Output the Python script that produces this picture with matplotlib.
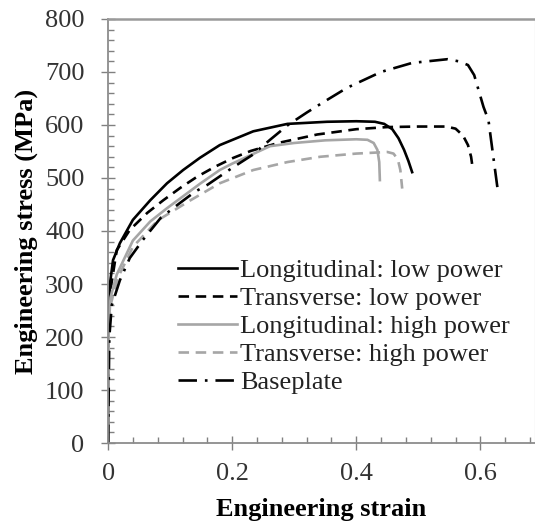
import matplotlib
matplotlib.use("Agg")
import matplotlib.pyplot as plt
from matplotlib.ticker import MultipleLocator

plt.rcParams['font.family'] = ['Liberation Serif', 'DejaVu Serif']

# Engineering stress-strain curves (strain, MPa)
long_low_strain = [0, 0.001, 0.003, 0.008, 0.019, 0.04, 0.068, 0.095, 0.121, 0.148, 0.18, 0.234,
                   0.289, 0.353, 0.4, 0.43, 0.445, 0.458, 0.468, 0.477, 0.484, 0.49]
long_low_stress = [0, 250, 300, 345, 377, 421, 458, 490, 515, 538, 562, 588,
                   602, 606, 607, 606, 602, 592, 575, 553, 532, 511]

trans_low_strain = [0, 0.001, 0.004, 0.014, 0.035, 0.063, 0.089, 0.116, 0.143, 0.172, 0.202, 0.23,
                    0.274, 0.337, 0.4, 0.45, 0.5, 0.545, 0.56, 0.572, 0.58, 0.585, 0.588]
trans_low_stress = [0, 240, 290, 364, 402, 434, 458, 481, 502, 521, 538, 551,
                    566, 582, 592, 596, 597, 597, 593, 580, 562, 540, 515]

long_high_strain = [0, 0.001, 0.004, 0.014, 0.04, 0.068, 0.095, 0.148, 0.18, 0.2, 0.261, 0.3,
                    0.35, 0.4, 0.418, 0.428, 0.434, 0.437, 0.438]
long_high_stress = [0, 220, 275, 318, 382, 418, 443, 489, 515, 527, 560, 566,
                    571, 573, 572, 566, 553, 530, 496]

trans_high_strain = [0, 0.001, 0.004, 0.015, 0.04, 0.08, 0.13, 0.18, 0.234, 0.289, 0.342, 0.4,
                     0.45, 0.46, 0.467, 0.471, 0.474]
trans_high_stress = [0, 210, 260, 310, 370, 420, 456, 490, 515, 530, 540, 546,
                     549, 546, 535, 515, 480]

base_strain = [0, 0.002, 0.006, 0.019, 0.035, 0.056, 0.085, 0.116, 0.14, 0.16, 0.2, 0.232, 0.261,
               0.29, 0.321, 0.347, 0.385, 0.44, 0.49, 0.547, 0.565, 0.58, 0.59, 0.605, 0.613,
               0.62, 0.628]
base_stress = [0, 200, 260, 307, 349, 383, 425, 453, 474, 487, 519, 543, 572,
               600, 624, 643, 670, 700, 717, 724, 720, 713, 694, 634, 609,
               547, 477]

labels = ["Longitudinal: low power", "Transverse: low power",
          "Longitudinal: high power", "Transverse: high power", "Baseplate"]

x_ticks = [0, 0.2, 0.4, 0.6]
y_ticks = [0, 100, 200, 300, 400, 500, 600, 700, 800]

fig = plt.figure(figsize=(5.35, 5.25), dpi=100)
ax = fig.add_axes([0.202, 0.156, 0.798, 0.808])

lw = 1.9
ax.plot(long_low_strain, long_low_stress, color='black', lw=lw, ls='-', label=labels[0])
ax.plot(trans_low_strain, trans_low_stress, color='black', lw=lw, ls=(0, (4, 2.5)), label=labels[1])
ax.plot(long_high_strain, long_high_stress, color='#a6a6a6', lw=lw, ls='-', label=labels[2])
ax.plot(trans_high_strain, trans_high_stress, color='#a6a6a6', lw=lw, ls=(0, (4, 2.5)), label=labels[3])
ax.plot(base_strain, base_stress, color='black', lw=lw, ls=(0, (7, 3, 1, 3)), label=labels[4])

ax.set_xlim(0, 0.688)
ax.set_ylim(0, 800)
ax.set_xticks(x_ticks)
ax.set_xticklabels([f"{v:g}" for v in x_ticks])
ax.set_yticks(y_ticks)
ax.xaxis.set_minor_locator(MultipleLocator(0.04))
ax.yaxis.set_minor_locator(MultipleLocator(20))

ax.tick_params(which='major', direction='inout', length=10, width=1.0, color='#808080',
               labelsize=19, labelcolor='#333333')
ax.tick_params(axis='x', which='major', pad=9)
ax.tick_params(axis='y', which='major', pad=12)
ax.tick_params(which='minor', direction='in', length=4, width=1.0, color='#808080')
ax.tick_params(top=False, right=False, which='both')

for side in ['left', 'bottom']:
    ax.spines[side].set_color('#8c8c8c')
    ax.spines[side].set_linewidth(1.3)
ax.spines['top'].set_color('#9a9a9a')
ax.spines['top'].set_linewidth(1.8)
ax.spines['right'].set_color('#e6e6e6')
ax.spines['right'].set_linewidth(1.0)

ax.set_xlabel("Engineering strain", fontsize=19, fontweight='bold', labelpad=10)
ax.set_ylabel("Engineering stress (MPa)", fontsize=19, fontweight='bold', labelpad=5)

leg = ax.legend(loc='upper left', bbox_to_anchor=(0.164, 0.434), frameon=False, fontsize=19,
                handlelength=2.25, handletextpad=0.1, labelspacing=0.17, borderaxespad=0,
                borderpad=0)
for t in leg.get_texts():
    t.set_color('#222222')

fig.savefig("out.png", dpi=100)
